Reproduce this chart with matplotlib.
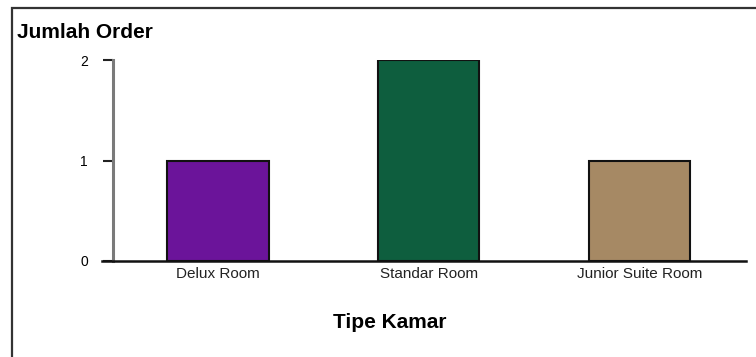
import matplotlib
matplotlib.use("Agg")
import matplotlib.pyplot as plt
from matplotlib.patches import Rectangle

# --- data ---
tipe_kamar = ["Delux Room", "Standar Room", "Junior Suite Room"]
jumlah_order = [1, 2, 1]
bar_colors = ["#6B149A", "#0E5E3E", "#A68964"]
y_ticks = [0, 1, 2]

plt.rcParams["font.family"] = ["Liberation Sans", "DejaVu Sans"]

W, H = 756, 357
fig = plt.figure(figsize=(W / 100, H / 100), dpi=100)
ax = fig.add_axes([102 / W, (H - 261) / H, (746 - 102) / W, (261 - 60) / H])

x = list(range(len(tipe_kamar)))
ax.bar(x, jumlah_order, width=0.48, color=bar_colors,
       edgecolor="#111111", linewidth=1.5, zorder=3)

ax.set_xlim(-0.55, 2.505)
ax.set_ylim(0, 2)
ax.set_xticks(x)
ax.set_xticklabels(tipe_kamar, fontsize=11, color="#222222")
ax.set_yticks(y_ticks)
ax.set_yticklabels([str(v) for v in y_ticks], fontsize=11, color="#222222")

for side in ("top", "right"):
    ax.spines[side].set_visible(False)
ax.spines["left"].set_position(("data", -0.5))
ax.spines["left"].set_color("#7a7a7a")
ax.spines["left"].set_linewidth(2.2)
ax.spines["bottom"].set_color("#111111")
ax.spines["bottom"].set_linewidth(1.8)

ax.tick_params(axis="y", direction="out", length=7.2, width=1.5,
               color="#222222", pad=10.5)
ax.tick_params(axis="x", length=0, pad=4)

ax.set_xlabel("Tipe Kamar", fontsize=15, fontweight="bold")
ax.xaxis.set_label_coords(390 / W, (H - 323) / H, transform=fig.transFigure)
ax.xaxis.label.set_va("center")

fig.text(17 / W, (H - 33) / H, "Jumlah Order", fontsize=15,
         fontweight="bold", ha="left", va="center")

# outer frame (cut off at right and bottom like the source)
fig.add_artist(Rectangle((12 / W, -0.05), 1.0, (H - 8) / H + 0.05,
                         transform=fig.transFigure, fill=False,
                         edgecolor="#333333", linewidth=1.6))

fig.savefig("out.png", dpi=100)
